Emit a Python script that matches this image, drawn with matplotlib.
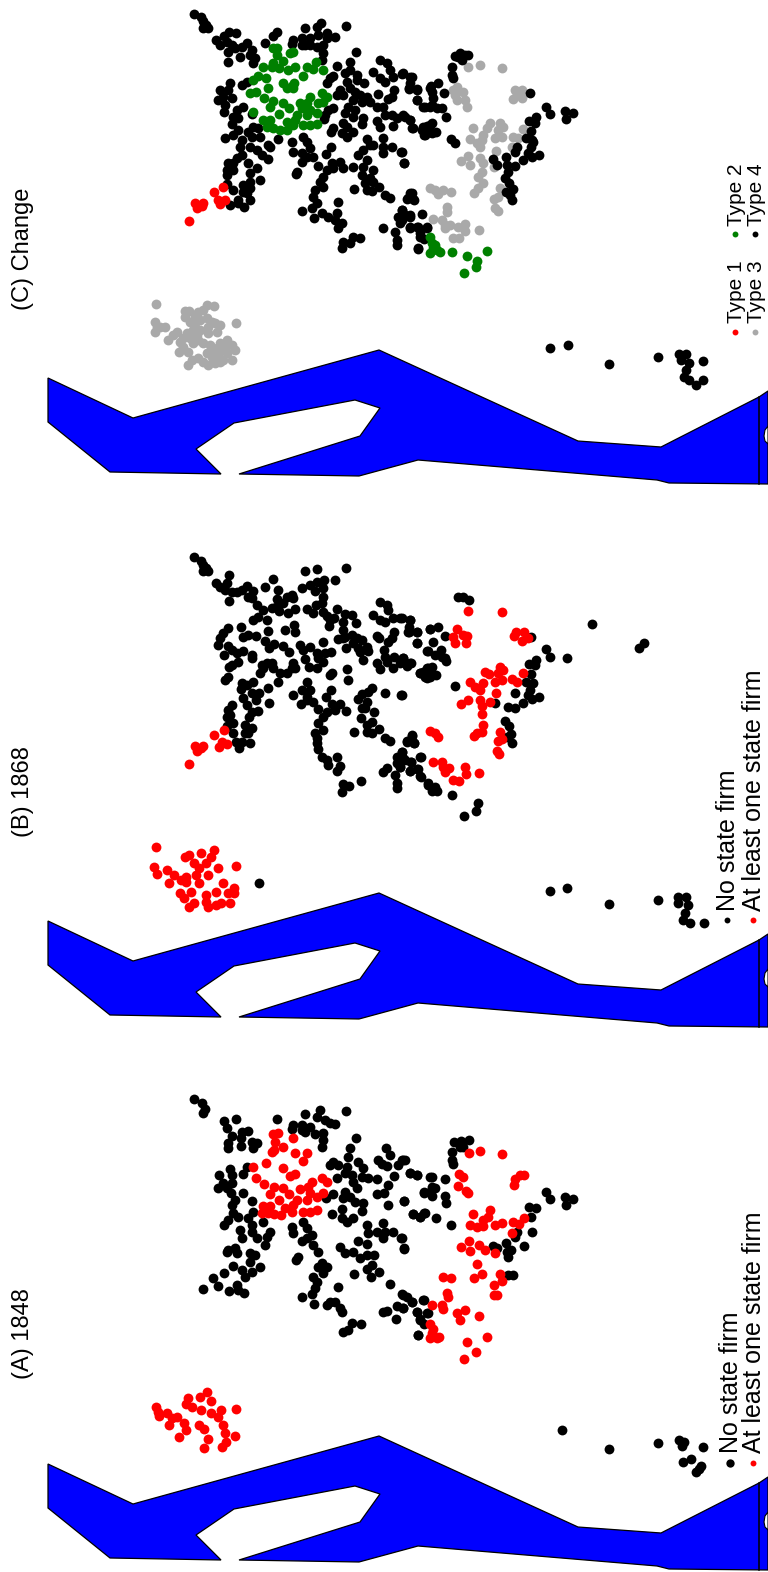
from __future__ import annotations

import matplotlib

matplotlib.use("Agg")
import matplotlib.pyplot as plt
import numpy as np

plt.rcParams["font.family"] = ["Liberation Sans", "DejaVu Sans"]

# river outline, page pixels of the top panel
RIVER_X = [48, 133, 379, 578, 661, 759, 768, 768, 669, 657, 418, 359, 239, 360, 380, 355, 234, 196, 221, 110, 48]
RIVER_Y = [378, 418, 350, 441, 447, 397, 391, 484, 483, 480, 460, 476, 474, 436, 408, 400, 423, 449, 474, 472, 422]
ISLAND_X = [768, 765, 764, 765, 768]
ISLAND_Y = [426, 430, 436, 441, 444]
BORDER_X = [759, 759]
BORDER_Y = [397, 484]

C_BLACK_WEST = [(73,41),(92,52),(100,62),(108,75),(100,85),(114,85),(138,120),(150,135),(163,108),(178,97),(197,100),(170,125),(185,135),(175,155),(195,145),(215,140),(232,130),(245,150),(210,170),(175,185),(240,165),(255,175),(250,190),
    (286,130),(310,108),(322,97),(370,120),(365,132),(405,83),(440,80),(452,70),(528,77),(395,115),(420,115),(405,135),(420,135),(395,135),(445,105),(470,100),(495,112),(470,115),(440,140),(460,135),(460,160),(455,180),(557,157),(540,187),(500,198),
    (480,235),(490,228),(470,248),(525,220),(540,210),(560,225),(530,245),(560,240),(582,248),(510,270),(500,285),(520,285),(540,265),(555,275),(570,285),(590,290),(625,282),(550,300),(575,305),(600,305),(535,320),(555,330),(525,340),(550,350),(620,322),(580,355),(577,373),(490,325),(475,330),(465,345),(462,358),(520,368),(530,380),(490,385),(483,397),(515,400),(530,410),(550,395),
    (630,180),(650,190),(660,210),(610,217),(630,235),(645,245),(670,230),(695,222),(720,230),(717,265),(740,267),(672,270),(665,290),(655,298),(780,265),(742,300),(760,320),(780,320),(640,322),(645,345),(665,345),(680,355),(700,345),(720,360),(670,378),(620,362),(630,380),(725,385),(760,380),(780,375),(765,405),(780,395),
    (180,250),(150,270),(175,270),(215,255),(232,245),(145,300),(160,290),(185,295),(165,315),(220,322),(162,335),(200,330),(245,342),(190,350),(205,355),(185,372),(205,390),(250,380),(265,385),(235,395),(165,415),(190,405),(215,420),(245,410),(270,410),(295,435),(300,440),(210,440),(240,440),(260,450),(215,465),(275,465),(295,478),(200,475),(175,490),(190,490),(170,510),(190,510),(235,490),(260,505),(240,520),(170,525),(270,540),(240,545),(220,555),(170,552),(188,570),(240,565),(220,575),(230,578),(205,600),(240,600),(180,615),(205,610),(222,620),
    (324,417),(365,425),(370,455),(400,410),(410,425),(420,445),(395,460),(410,470),(395,485),(430,470),(443,498),(382,515),(378,522),(467,462),(484,440),(485,490),(510,485),(470,510),(460,530),(450,545),(460,560),(490,505),(520,505),(550,500),(580,500),(610,510),(575,525),(590,480),(600,535),(585,550),(610,545),(590,570),(605,572),(628,560),(552,566),(645,585),(660,595),
    (590,418),(600,435),(640,413),(565,465),(580,450),(610,435),(640,440),(665,440),(640,460),(692,456),(702,488),(435,570),(430,590),(440,610),(425,625),(505,605),(395,634),(433,654),(455,640),(475,650),(500,640),(495,660),(515,670),(505,685),
    (720,580),(730,598),(715,595),(695,630),(685,650),(720,650),(690,670),(640,685),(675,695),(680,720),(680,735),(720,680),(745,680),(750,710),(770,680),(745,745),(515,745),(520,725),(550,710),(570,715),(540,730)]
C_RED_WEST = [(57,663),(132,577),(160,562),(75,610),(82,625),(100,608),(95,618),(145,600),(165,600),(150,612)]
C_GREEN_WEST = [(320,143),(308,145),(320,165),(360,160),(368,157),(338,183),(280,200),(305,200),(310,190),(328,205),(355,210),(375,200),(437,185),(412,200),(430,208),(460,210),(400,227),(265,227),(250,240),(288,235),(295,265),(240,278),(258,277),(340,248),(372,250),(350,265),(370,265),(365,258),(283,293),(310,303),(300,320),(338,308),(358,325),(326,342),(248,335),(390,310),(420,290),(410,310),(455,278),(470,290),(395,325),(420,330),(445,310),(460,305),(440,340),(410,345),(380,345),(280,360),(300,360),(350,365),(375,360),(290,380),(310,385),(330,390),(350,390),(370,375),(400,375),(420,375),(440,372)]
C_BLACK_EAST = [(165,48),(180,40),(195,45),(205,45),(185,60),(175,50),(155,80),(157,105),(160,115),(10,100),(35,110),(30,130),(28,148),(50,150),(92,138),(113,130),(95,155),(133,160),(52,180),(100,175),(75,200),(95,195),(110,205),(125,205),(138,230),(15,230),(30,240),(38,265),(65,270),(80,258),(97,250),(72,285),(95,280),(107,275),(153,297),(165,310),(5,337),(12,370),
    (390,160),(437,200),(450,222),(495,212),(520,218),(497,237),(387,243),(408,232),(405,248),(393,272),(378,295),(395,300),(400,305),(350,320),(345,335),(392,320),(385,340),(397,350),(417,345),(370,360),(317,350),(278,358),(290,375),(320,375),(345,377),(325,395),(315,415),(328,430),(340,447),(318,455),(330,465),(337,480),
    (35,458),(20,477),(42,480),(5,510),(30,525),(15,525),(5,540),(65,522),(50,560),(30,563),(60,580),(72,598),(82,563),(55,627)]
C_GREEN_EAST = [(90,592),(97,610),(105,615),(90,638),(120,635),(110,630),(100,625),(155,637),(200,648),(260,634),(232,662),(228,680),(192,700)]
C_GRAY_EAST = [(205,82),(239,76),(306,85),(170,140),(190,155),(165,165),(170,180),(195,180),(200,200),(160,150),(345,150),(365,150),(350,165),(340,178),(365,175),
    (218,265),(270,250),(260,265),(250,285),(300,250),(310,260),(295,270),(305,290),(285,295),(368,268),(340,290),(355,295),(335,320),(210,298),(230,310),(245,300),(240,320),(289,332),(205,347),(183,363),(210,375),(240,355),(250,370),(245,395),(235,412),(250,430),(222,458),(235,445),(300,445),(295,470),(282,478),(285,505),(295,512),(283,380),
    (90,443),(105,450),(115,462),(130,450),(153,455),(140,500),(142,515),(100,538),(125,540),(135,555),(150,555),(135,565),(173,560),(195,552),(195,573),(237,570),(160,595),(178,593)]
C_GRAY_ISLAND = [(48,42),(45,95),(52,110),(45,127),(75,110),(85,150),(110,125),(118,185),(130,170),(140,130),(150,145),(160,160),(130,145),(145,185),(155,210),(145,225),(135,62),(148,62),(135,80),(150,95),(165,100),(175,65),(190,60),(200,45),(222,48),(180,90),(200,85),(215,95),(240,105),(180,120),(205,130),(190,160),(200,190),(190,215),(205,225),(225,220),(240,215),(220,175),(240,160),(260,150),(275,165),(285,180),(240,180),(260,190),(275,210),(248,210),(288,98),(230,125),
    (160,120),(170,135),(175,150),(205,110),(225,100),(165,80),(120,155),(100,135),(60,110),(215,200),(235,195),(255,170),(175,205),(210,165)]
# this crop came back stretched: 2.04x across, 3x down
C_BLACK_SOUTH = [(1122,533),(1158,525),(1242,581),(1343,562),(1385,552),(1400,552),(1390,570),(1405,578),(1400,600),(1395,620),(1405,630),(1420,645),(1435,630),(1434,574)]

B_BLACK_WEST = [(73,50),(92,62),(100,75),(108,85),(100,92),(115,92),(138,128),(150,140),(178,105),(172,130),(165,150),(185,155),(178,182),(200,155),(215,150),(232,138),(248,152),(235,170),(245,175),
    (286,140),(308,116),(323,150),(322,177),(365,165),(350,170),(370,175),(340,190),(262,195),(280,210),(305,205),(318,200),(328,212),(355,220),(376,208),
    (405,92),(440,87),(528,85),(395,145),(420,135),(440,125),(462,120),(495,120),(435,152),(460,145),(458,170),(455,190),(437,195),(412,208),(430,218),(458,215),(500,207),
    (480,240),(492,235),(470,228),(478,258),(525,222),(545,225),(520,245),(557,250),(520,270),(525,290),(505,298),(520,295),(545,285),(560,295),(575,300),(590,320),(550,310),(565,325),(528,325),(570,335),(595,333),(580,361),
    (630,187),(650,195),(655,210),(608,225),(630,240),(645,245),(670,235),(690,235),(720,240),(715,275),(740,277),(672,277),(665,295),(655,305),(620,288),(628,295),(780,268),(742,309),(772,332),(642,330),(645,350),(650,365),(672,350),(700,355),(720,368),(710,378),(690,370),(668,385),(620,370),(630,388),(760,395),(775,385),(750,400),(770,415),(780,400),
    (175,263),(160,280),(150,295),(145,315),(212,260),(218,292),(235,285),(258,287),(175,318),(185,330),(200,340),(220,332),(162,345),(205,365),(185,375),(178,380),(245,345),(245,355),(248,240),(265,232),(290,240),(295,272),(285,303),(298,323),(312,312),(338,318),(358,335),(345,270),(372,255),(375,275),
    (175,410),(165,420),(250,425),(295,443),(323,425),(275,375),(290,370),(305,370),(270,400),(280,385),(310,385),(330,400),(350,400),(365,385),(370,370),(375,385),
    (390,315),(400,330),(420,322),(405,358),(440,340),(460,305),(445,355),(465,340),(483,335),(417,380),(440,383),(460,365),
    (215,430),(230,435),(212,448),(245,458),(268,460),(220,473),(258,480),(297,488),(232,495),(185,495),(175,510),(180,525),(265,512),(245,515),(170,532),(238,530),(172,558),(190,548),(190,578),(225,555),(245,565),(235,578),(225,578),(198,605),(215,605),(240,610),(208,625),
    (370,465),(410,425),(395,450),(420,450),(410,470),(430,485),(392,492),(410,480),(443,507),(468,470),(484,450),(485,492),(510,492),(470,515),(495,510),(527,513),(460,530),(445,548),(460,570),(487,400),(480,405),(530,388),(533,420),
    (605,445),(595,455),(575,462),(565,478),(592,485),(577,505),(612,515),(585,505),(572,535),(607,545),(590,555),(590,575),(605,580),(628,568),(552,575),(645,595),(660,603),(645,460),(692,465),
    (435,578),(440,595),(440,610),(445,628),(455,650),(470,660),(475,675),(502,650),(510,678),(500,693),
    (725,587),(712,603),(733,608),(695,635),(680,650),(680,670),(700,655),(722,665),(690,680),(640,695),(650,685),(675,705),(680,730),(680,745),(720,692),(745,688),(750,708),(752,650),(572,722),(520,733),(537,738),(515,755),(775,735)]
B_RED_WEST = [(57,672),(132,585),(162,570),(75,618),(82,632),(100,618),(92,625),(155,605),(170,612),(148,622)]
B_BLACK_EAST = [(173,50),(190,50),(208,60),(5,115),(30,120),(28,140),(50,157),(27,157),(90,147),(113,140),(135,168),(52,188),(100,185),(85,212),(105,225),(122,210),(125,230),(135,235),(138,243),(10,235),(15,250),(32,248),(80,265),(97,260),(60,280),(75,290),(90,290),(107,285),(165,318),(5,345),(345,340),
    (392,170),(437,208),(450,230),(500,235),(387,252),(408,240),(405,255),(393,282),(378,305),(400,310),(390,330),(385,345),(397,358),(417,352),(370,368),(284,370),(325,382),(345,385),(315,423),(328,437),(332,462),(322,470),(337,488),(575,132),(732,190),(717,205),
    (35,465),(22,485),(42,490),(5,515),(15,540),(32,546),(0,560),(60,530),(52,568),(30,572),(62,590),(85,610),(105,620),(95,632),(112,632),(155,645),(233,670),(228,692),(192,708)]
B_RED_EAST = [(205,92),(307,95),(170,147),(158,170),(190,165),(200,168),(165,190),(197,188),(348,155),(373,155),(343,168),(365,182),(383,173),
    (255,275),(268,282),(300,260),(310,270),(295,280),(285,305),(305,300),(337,297),(352,305),(368,278),(210,307),(225,320),(240,330),(248,308),(289,340),(203,360),(183,373),(240,360),(245,378),(270,366),(246,403),(248,435),(245,455),(222,468),(232,458),(300,455),(305,478),(295,482),(292,512),(297,522),
    (90,452),(105,460),(115,472),(98,545),(125,545),(130,560),(135,575),(148,565),(195,560),(197,582),(237,578),(160,600),(178,603)]
# stretched crop again
B_RED_ISLAND = [(319,381),(481,437),(315,440),(320,463),(340,450),(345,490),(355,465),(370,480),(380,470),(385,405),(378,410),(410,400),(437,390),(430,410),(395,430),(405,445),(420,430),(445,445),(400,465),(425,465),(405,490),(455,490),(440,515),(420,525),(465,520),(478,505),(478,520),(368,520),(375,535),(390,515),(395,548),(385,562),(425,560),(440,555),(450,548),(470,550),(420,545),(380,485)]
B_BLACK_ISLAND = [(528,488)]
B_BLACK_SOUTH = [(60,92),(112,83),(238,133),(383,120),(443,110),(468,110),(445,128),(475,135),(465,158),(458,180),(480,188),(521,190)]

A_BLACK_WEST = [(73,43),(97,55),(105,72),(100,85),(162,108),(197,103),(172,128),(185,152),(175,175),(175,188),(215,140),(233,137),(212,160),(213,183),(245,170),(262,175),(250,190),(322,103),(370,120),(365,132),(405,86),(450,75),(528,78),(440,97),(465,105),(480,115),(495,118),(395,120),(420,125),(405,140),(395,135),(435,147),(460,145),(458,165),(455,187),(557,160),(540,190),(533,215),
    (480,240),(490,232),(505,240),(565,230),(532,245),(580,250),(525,265),(545,270),(500,280),(550,290),(575,275),(595,280),(622,283),(560,310),(525,320),(520,340),(540,335),(555,350),(580,353),(515,372),(577,377),(486,386),(490,327),(468,340),(515,400),(530,410),(550,400),(653,360),(703,348),
    (648,190),(660,210),(625,225),(635,238),(652,243),(695,225),(705,225),(685,240),(720,265),(740,270),(672,272),(655,300),(620,327),(643,325),(780,275),(762,322),(780,322),(728,388),(750,395),(765,385),
    (220,268),(230,245),(180,252),(148,270),(185,270),(160,295),(185,295),(145,308),(170,310),(182,325),(220,325),(245,347),(195,345),(185,360),(250,380),(190,385),(205,395),(175,405),(163,420),(235,400),(280,410),(245,420),(300,440),(210,435),(245,440),(215,460),(260,460),(285,480),(290,455),(175,495),(195,490),(200,505),(170,500),(240,505),(255,510),(240,530),(270,545),(190,542),(162,565),(245,560),(215,555),(225,575),(130,578),(145,603),(100,612),(200,600),(178,617),(205,615),(222,625),
    (365,425),(370,445),(400,410),(410,430),(425,450),(395,468),(410,460),(430,480),(443,500),(385,515),(378,525),(455,535),(445,545),(470,545),(460,565),(510,487),(525,505),(550,500),(570,518),(590,510),(612,510),(565,468),(590,478),(590,420),(595,445),(638,415),(620,440),(640,460),(645,440),(668,440),(692,458),(702,490),(605,540),(590,552),(628,562),(602,575),(552,568),(660,597),
    (430,575),(440,590),(435,610),(425,628),(505,607),(395,636),(433,656),(470,660),(480,650),(495,650),(510,670),(515,682),
    (695,628),(710,635),(725,650),(680,662),(700,670),(762,645),(640,680),(650,678),(677,702),(742,682),(750,705),(770,685),(745,750),(520,740),(545,715),(572,716),(535,735)]
A_RED_WEST = [(308,148),(323,145),(315,170),(368,158),(340,185),(305,200),(312,195),(376,203),(412,203),(400,228),(288,235),(248,247),(340,250),(360,272),(376,266),(258,280),(283,297),(312,305),(338,310),(300,327),(358,328),(326,345),(390,312),(425,290),(415,305),(455,280),(470,292),(420,325),(410,345),(440,335),(460,325),(380,345),(370,360),(280,362),(300,362),(345,370),(275,385),(295,385),(312,388),(333,390),(365,380),(398,380),(420,382),(440,375)]
A_BLACK_EAST = [(162,67),(183,62),(206,60),(180,82),(190,82),(155,97),(157,120),(160,132),(10,120),(30,160),(52,165),(95,170),(134,178),(95,200),(105,205),(72,218),(95,228),(135,228),(138,250),(12,243),(38,283),(60,292),(72,280),(107,294),(153,315),(5,355),(12,387),
    (437,217),(450,238),(495,230),(520,236),(497,255),(387,262),(408,263),(393,292),(350,335),(345,350),(395,335),(371,377),(317,368),(280,378),(290,385),(320,395),(333,390),(323,412),(325,465),(340,465),
    (10,525),(35,545),(10,565),(70,540),(83,580),(52,577),(60,597),(72,613),(55,645)]
A_RED_EAST = [(208,98),(239,93),(306,102),(178,163),(190,172),(173,197),(197,212),(203,220),(345,178),(360,165),(373,165),(342,195),
    (218,283),(270,270),(265,290),(250,300),(210,316),(232,322),(248,317),(285,315),(305,310),(338,307),(357,313),(373,294),(335,338),(206,364),(183,381),(209,393),(237,376),(255,391),(284,398),(232,431),(222,473),(246,463),(300,463),(305,484),(283,495),(283,526),(292,526),(130,471),(153,474),(140,518),(143,532),(97,556),(125,555),(128,566),(172,579),(195,570),(181,600),(237,588),
    (90,612),(100,628),(95,640),(118,652),(90,655),(112,655),(200,666),(260,652),(228,695),(192,718)]
# stretched crop
A_RED_ISLAND = [(319,410),(322,425),(325,438),(340,430),(350,445),(362,440),(345,465),(375,460),(380,480),(365,500),(383,385),(380,403),(392,410),(408,380),(422,365),(430,392),(410,420),(430,428),(445,442),(451,420),(481,416),(405,465),(417,478),(454,465),(460,488),(462,515),(479,498),(425,507),(417,535),(453,532)]
A_BLACK_SOUTH = [(1147,481),(1243,537),(1343,519),(1385,510),(1395,515),(1392,528),(1434,531),(1410,567),(1394,577),(1430,588),(1425,597),(1420,605)]

STATE_LABELS = ["No state firm", "At least one state firm"]
TYPE_LABELS = ["Type 1", "Type 2", "Type 3", "Type 4"]

RED = "#ff0000"
GREEN = "#008000"
GRAY = "#a9a9a9"
BLACK = "#000000"
BLUE = "#0000ff"

DOT = 50


def crop_to_page(points, x0, y0, sx=3.0, sy=3.0):
    pts = np.array(points, dtype=float)
    return x0 + pts[:, 0] / sx, y0 + pts[:, 1] / sy


def dots(ax, points, x0, y0, color, sx=3.0, sy=3.0, size=DOT):
    x, y = crop_to_page(points, x0, y0, sx, sy)
    ax.scatter(x, y, s=size, c=color, linewidths=0, zorder=3)


def draw_river(ax, offset):
    ax.fill(RIVER_X, np.array(RIVER_Y) + offset, facecolor=BLUE, edgecolor=BLACK, linewidth=0.9, zorder=1)
    ax.plot(BORDER_X, np.array(BORDER_Y) + offset, color=BLACK, linewidth=1.1, zorder=2)
    ax.fill(ISLAND_X, np.array(ISLAND_Y) + offset, facecolor="white", edgecolor=BLACK, linewidth=0.8, zorder=2)


def title(ax, y, text):
    ax.text(23, y, text, rotation=90, ha="center", va="bottom", fontsize=17)


def legend_entry(ax, x, y_dot, y_text, label, color, fontsize, size=18):
    ax.scatter([x], [y_dot], s=size, c=color, linewidths=0, zorder=3)
    ax.text(x + 1, y_text, label, rotation=90, ha="center", va="bottom", fontsize=fontsize)


def main() -> None:
    fig = plt.figure(figsize=(7.68, 15.72), dpi=100)
    ax = fig.add_axes([0, 0, 1, 1])
    ax.set_xlim(0, 768)
    ax.set_ylim(1572, 0)
    ax.axis("off")

    # panel C
    draw_river(ax, 0)
    dots(ax, C_BLACK_WEST, 170, 0, BLACK)
    dots(ax, C_GREEN_WEST, 170, 0, GREEN)
    dots(ax, C_RED_WEST, 170, 0, RED)
    dots(ax, C_GRAY_EAST, 400, 40, GRAY)
    dots(ax, C_BLACK_EAST, 400, 40, BLACK)
    dots(ax, C_GREEN_EAST, 400, 40, GREEN)
    dots(ax, C_GRAY_ISLAND, 140, 290, GRAY)
    dots(ax, C_BLACK_SOUTH, 0, 170, BLACK, sx=2.04)
    title(ax, 310, "(C) Change")
    legend_entry(ax, 735, 332, 323, TYPE_LABELS[0], RED, 15)
    legend_entry(ax, 735, 234, 226, TYPE_LABELS[1], GREEN, 15)
    legend_entry(ax, 755, 332, 323, TYPE_LABELS[2], GRAY, 15)
    legend_entry(ax, 755, 234, 226, TYPE_LABELS[3], BLACK, 15)

    # panel B
    draw_river(ax, 543)
    dots(ax, B_BLACK_WEST, 170, 540, BLACK)
    dots(ax, B_RED_WEST, 170, 540, RED)
    dots(ax, B_BLACK_EAST, 400, 580, BLACK)
    dots(ax, B_RED_EAST, 400, 580, RED)
    dots(ax, B_RED_ISLAND, 0, 720, RED, sx=2.04)
    dots(ax, B_BLACK_ISLAND, 0, 720, BLACK, sx=2.04)
    dots(ax, B_BLACK_SOUTH, 530, 860, BLACK)
    title(ax, 837, "(B) 1868")
    legend_entry(ax, 727, 920, 911, STATE_LABELS[0], BLACK, 18)
    legend_entry(ax, 753, 920, 911, STATE_LABELS[1], RED, 18)

    # panel A
    draw_river(ax, 1086)
    dots(ax, A_BLACK_WEST, 170, 1085, BLACK)
    dots(ax, A_RED_WEST, 170, 1085, RED)
    dots(ax, A_BLACK_EAST, 400, 1120, BLACK)
    dots(ax, A_RED_EAST, 400, 1120, RED)
    dots(ax, A_RED_ISLAND, 0, 1270, RED, sx=2.04)
    dots(ax, A_BLACK_SOUTH, 0, 1270, BLACK, sx=2.04)
    title(ax, 1379, "(A) 1848")
    legend_entry(ax, 730, 1463, 1453, STATE_LABELS[0], BLACK, 18, size=36)
    legend_entry(ax, 753, 1463, 1453, STATE_LABELS[1], RED, 18)

    fig.savefig("out.png", dpi=100, facecolor="white")


if __name__ == "__main__":
    main()
